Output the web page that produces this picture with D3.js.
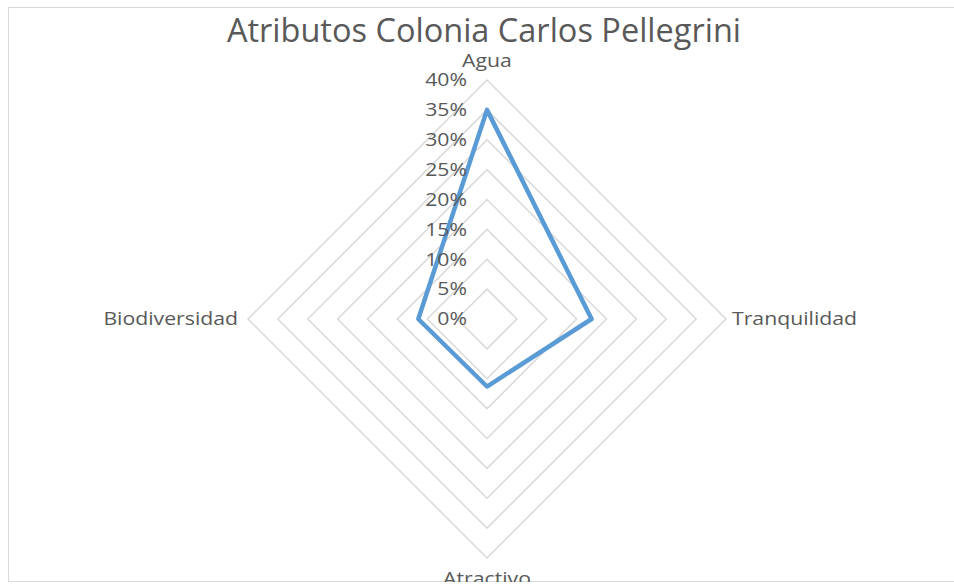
<!DOCTYPE html>
<html><head><meta charset="utf-8">
<script src="https://cdn.jsdelivr.net/npm/d3@7"></script>
<style>html,body{margin:0;padding:0;background:#fff;}svg{display:block;}</style>
</head><body>
<svg id="c" width="954" height="587"></svg>
<script>
const categories = ["Agua", "Tranquilidad", "Atractivo", "Biodiversidad"];
const values = [0.35, 0.175, 0.113, 0.115];
const tickValues = [0, 0.05, 0.10, 0.15, 0.20, 0.25, 0.30, 0.35, 0.40];
const title = "Atributos Colonia Carlos Pellegrini";

const svg = d3.select("#c");
const W = 954, H = 587;
const cx = 487, cy = 319, R = 239;
const font = "'Open Sans', sans-serif";
const textColor = "#595959";
const fs = 18, sx = 1.18;

svg.append("defs").append("clipPath").attr("id","clip")
  .append("rect").attr("x",8).attr("y",7).attr("width",W).attr("height",575);

const g0 = svg.append("g").attr("clip-path","url(#clip)");

g0.append("rect").attr("x",8.5).attr("y",7.5).attr("width",W).attr("height",574)
  .attr("fill","#fff").attr("stroke","#d9d9d9").attr("stroke-width",1);

const r = d3.scaleLinear().domain([0, 0.40]).range([0, R]);
const ang = c => categories.indexOf(c) * 2*Math.PI/categories.length;
const radial = d3.lineRadial().angle(d => ang(d.c)).radius(d => r(d.v)).curve(d3.curveLinearClosed);

const g = g0.append("g").attr("transform", `translate(${cx},${cy})`);

tickValues.filter(t => t > 0).forEach(t => {
  g.append("path")
    .attr("d", radial(categories.map(c => ({c, v: t}))))
    .attr("fill","none").attr("stroke","#d9d9d9").attr("stroke-width",1.5);
});

g.append("path")
  .attr("d", radial(categories.map((c,i) => ({c, v: values[i]}))))
  .attr("fill","none").attr("stroke","#5b9bd5").attr("stroke-width",4.5)
  .attr("stroke-linejoin","round");

const fmt = d3.format(".0%");
g.selectAll("text.tick").data(tickValues).join("text")
  .attr("class","tick")
  .attr("transform", d => `translate(-20,${-r(d)}) scale(${sx},1)`)
  .attr("dy","0.35em")
  .attr("text-anchor","end")
  .attr("font-family",font).attr("font-size",fs).attr("fill",textColor)
  .text(d => fmt(d));

const labelPos = [
  {x:0, y:-R-13, anchor:"middle", dy:"0em"},
  {x:R+6, y:0, anchor:"start", dy:"0.35em"},
  {x:0, y:R+27, anchor:"middle", dy:"0em"},
  {x:-R-10, y:0, anchor:"end", dy:"0.35em"}
];
g.selectAll("text.cat").data(categories).join("text")
  .attr("class","cat")
  .attr("transform",(d,i)=>`translate(${labelPos[i].x},${labelPos[i].y}) scale(${sx},1)`)
  .attr("dy",(d,i)=>labelPos[i].dy)
  .attr("text-anchor",(d,i)=>labelPos[i].anchor)
  .attr("font-family",font).attr("font-size",fs).attr("fill",textColor)
  .text(d=>d);

svg.append("text").attr("x",484).attr("y",42).attr("text-anchor","middle")
  .attr("font-family",font).attr("font-size",32.5).attr("fill",textColor)
  .text(title);
</script>
</body></html>
